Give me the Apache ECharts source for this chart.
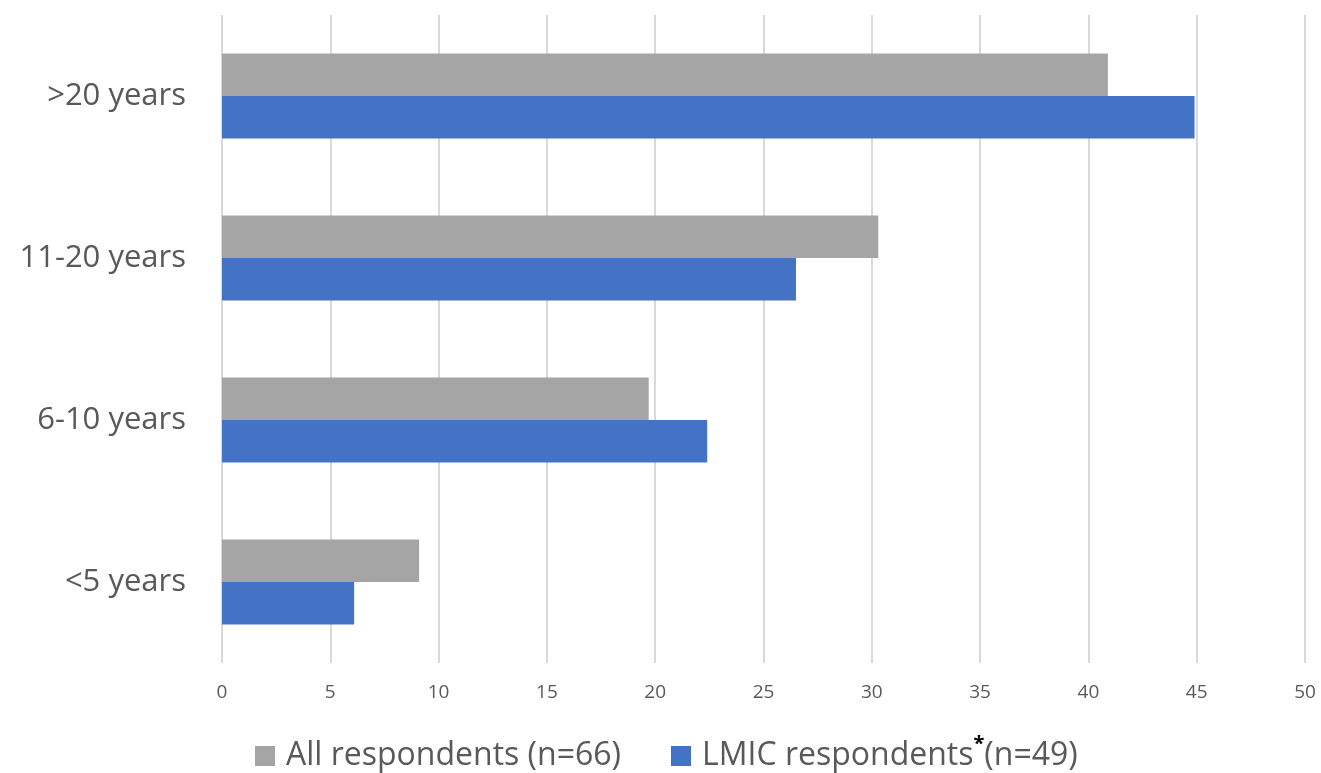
<!DOCTYPE html>
<html>
<head>
<meta charset="utf-8">
<script src="https://cdn.jsdelivr.net/npm/echarts@6/dist/echarts.min.js"></script>
<style>
  html, body { margin: 0; padding: 0; background: #fff; }
  #chart { width: 1321px; height: 773px; }
</style>
</head>
<body>
<div id="chart"></div>
<script>
// Years of experience, share of respondents (%)
const categories = ['<5 years', '6-10 years', '11-20 years', '>20 years'];
const allRespondents = [9.1, 19.7, 30.3, 40.9];
const lmicRespondents = [6.1, 22.4, 26.5, 44.9];
const seriesNames = ['All respondents (n=66)', 'LMIC respondents*(n=49)'];
const xTicks = { min: 0, max: 50, interval: 5 };

const FONT = '"Open Sans", Lato, sans-serif';
const chart = echarts.init(document.getElementById('chart'));

chart.setOption({
  animation: false,
  textStyle: { fontFamily: FONT },
  grid: { left: 222, right: 16, top: 15, bottom: 110 },
  legend: {
    data: [seriesNames[0], seriesNames[1]],
    top: 729,
    left: 250,
    icon: 'rect',
    itemWidth: 20,
    itemHeight: 20,
    itemGap: 50,
    textStyle: {
      fontFamily: FONT,
      fontSize: 32,
      color: '#595959',
      padding: [0, 0, 0, 6],
      rich: {
        sup: { fontSize: 20, color: '#000', fontWeight: 'bold', verticalAlign: 'top', padding: [0, 0, 24, 0] },
        t: { fontSize: 32, color: '#595959', fontFamily: FONT }
      }
    },
    formatter: function (name) {
      if (name.indexOf('*') >= 0) {
        const parts = name.split('*');
        return '{t|' + parts[0] + '}{sup|*}{t|' + parts[1] + '}';
      }
      return '{t|' + name + '}';
    }
  },
  xAxis: {
    type: 'value',
    min: xTicks.min,
    max: xTicks.max,
    interval: xTicks.interval,
    axisLine: { show: false },
    axisTick: { show: false },
    axisLabel: { fontSize: 19, color: '#595959', margin: 20, fontFamily: FONT },
    splitLine: { lineStyle: { color: '#d9d9d9', width: 2 } }
  },
  yAxis: {
    type: 'category',
    data: categories,
    axisLine: { show: false },
    axisTick: { show: false },
    axisLabel: { fontSize: 31, color: '#595959', margin: 36, fontFamily: FONT }
  },
  series: [
    {
      name: seriesNames[0],
      type: 'bar',
      data: allRespondents,
      barWidth: 42.5,
      barGap: '0%',
      itemStyle: { color: '#A5A5A5' }
    },
    {
      name: seriesNames[1],
      type: 'bar',
      data: lmicRespondents,
      barWidth: 42.5,
      barGap: '0%',
      itemStyle: { color: '#4472C4' }
    }
  ]
});
</script>
</body>
</html>
